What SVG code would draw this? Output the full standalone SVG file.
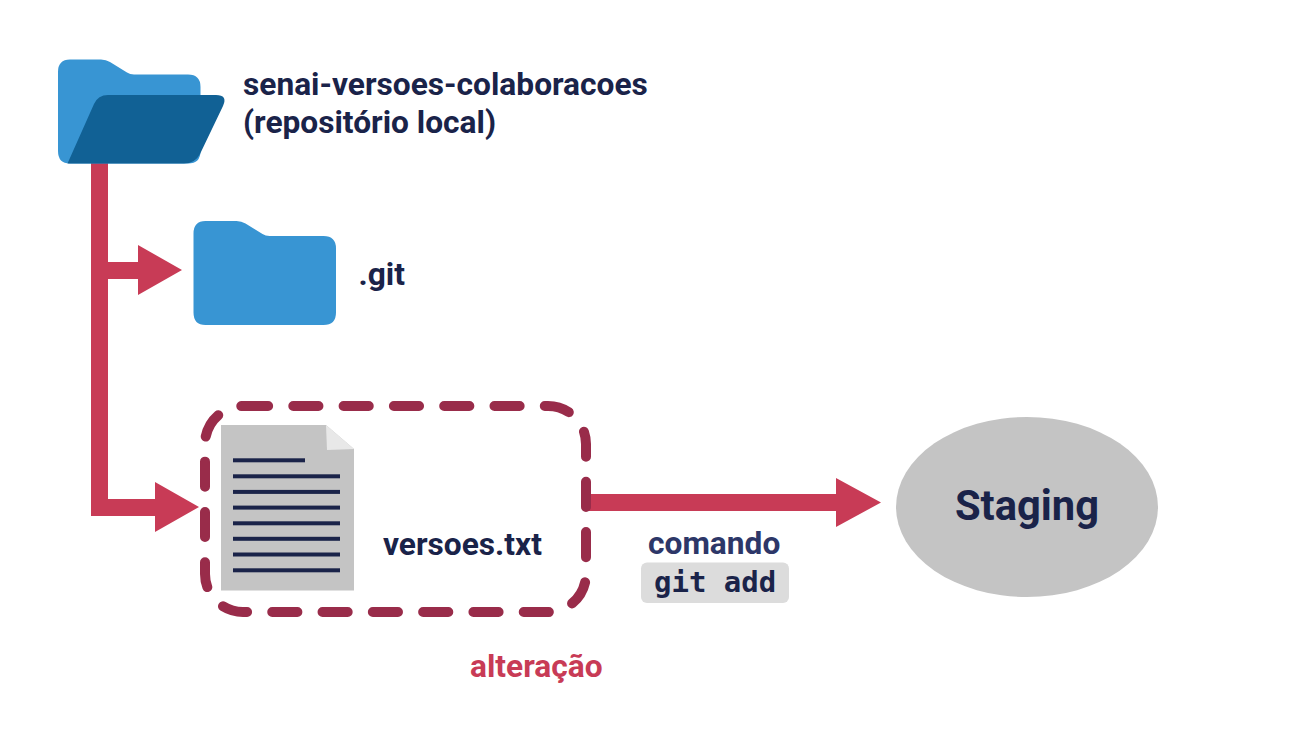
<svg xmlns="http://www.w3.org/2000/svg" width="1293" height="730" viewBox="0 0 1293 730">
<style>
text{font-family:Roboto,"Liberation Sans",sans-serif;font-weight:700;fill:#1a2349}
.back{fill:#3895d3}
.front{fill:#116195}
.arrow{fill:#c83b56}
.ln{fill:#1a2349}
</style>
<defs>
<path id="fb" d="M70 59.500H101Q106 59.500 110 62L127 72.500Q130 74.500 134 74.500H188Q200.500 74.500 200.500 87V151Q200.500 163.500 188 163.500H70Q58 163.500 58 151V72Q58 59.500 70 59.500Z"/>
</defs>
<rect width="1293" height="730" fill="#fff"/>
<g id="connectors">
<path class="arrow" d="M91 163H108V262H138V245L182 270L138 295V279H108V499H155V482L199 507L155 532V516H91Z"/>
<path class="arrow" d="M585 494H836V478L881 502.500L836 527V511H585Z"/>
</g>
<g id="node-repo">
<use href="#fb" class="back"/>
<path class="front" d="M67.500 163.500L94 104Q98 95 108 95H216Q228 95 223 106L200 154Q195 163.500 184 163.500Z"/>
<text x="243" y="95" font-size="31.700">senai-versoes-colaboracoes</text>
<text x="243" y="133" font-size="31.700">(repositório local)</text>
</g>
<g id="node-git">
<use href="#fb" class="back" x="135.500" y="161.500"/>
<text x="358.500" y="285" font-size="31.700">.git</text>
</g>
<g id="node-file">
<path fill="#c4c4c4" d="M221 425H326L354 449V590.500H221Z"/>
<path fill="#e8e8e8" d="M326 425L354 449L327 450Z"/>
<rect class="ln" x="233" y="458.300" width="72" height="4"/>
<rect class="ln" x="233" y="474.300" width="107" height="4"/>
<rect class="ln" x="233" y="489.900" width="107" height="4"/>
<rect class="ln" x="233" y="505.600" width="107" height="4"/>
<rect class="ln" x="233" y="521.300" width="107" height="4"/>
<rect class="ln" x="233" y="536.800" width="107" height="4"/>
<rect class="ln" x="233" y="552.500" width="107" height="4"/>
<rect class="ln" x="233" y="568.300" width="107" height="4"/>
<text x="383" y="555" font-size="31.700">versoes.txt</text>
</g>
<g id="node-change">
<rect x="205" y="406" width="381" height="206" rx="38" ry="38" fill="none" stroke="#992c4a" stroke-width="10" stroke-linecap="round" stroke-dasharray="25.150 25.150"/>
<text x="470" y="677" font-size="31.700" style="fill:#c83b56">alteração</text>
</g>
<g id="node-command">
<text x="648" y="554" font-size="31.700" style="fill:#2d3768">comando</text>
<rect x="641" y="562.500" width="148" height="40.500" rx="6" fill="#dcdcdc"/>
<text x="654" y="592" font-size="29" style="font-family:'DejaVu Sans Mono','Liberation Mono',monospace">git add</text>
</g>
<g id="node-staging">
<ellipse cx="1027" cy="507" rx="131" ry="90" fill="#c4c4c4"/>
<text x="1027" y="520" font-size="41.700" text-anchor="middle">Staging</text>
</g>
</svg>
